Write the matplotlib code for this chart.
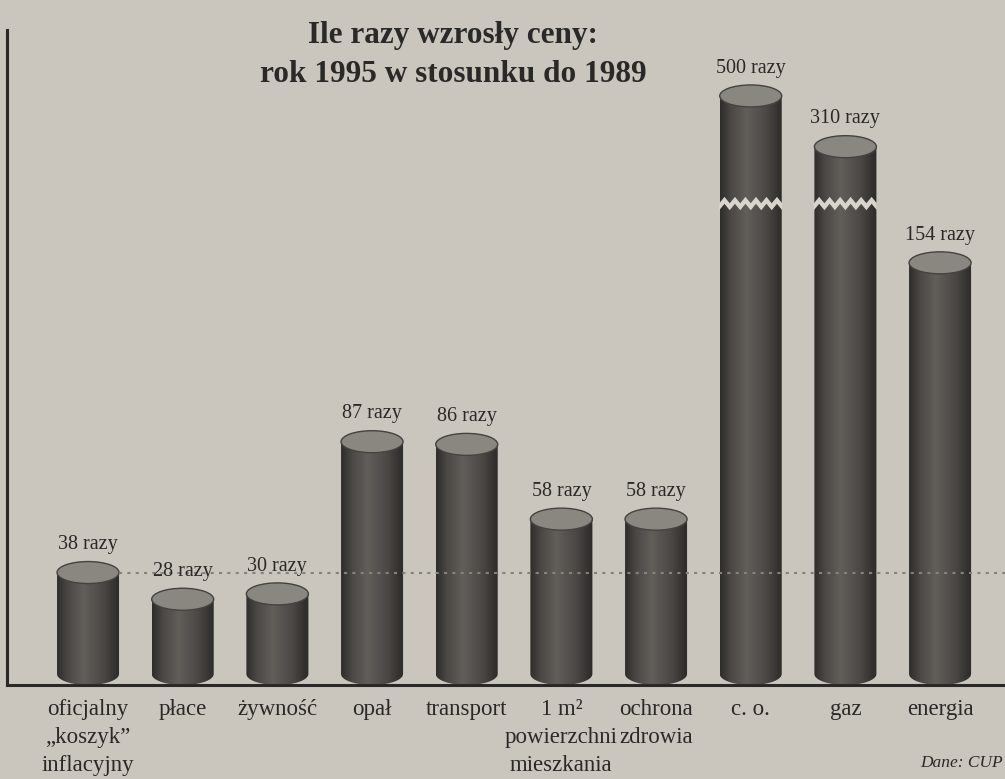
import numpy as np
import matplotlib
matplotlib.use("Agg")
import matplotlib.pyplot as plt
from matplotlib.patches import Ellipse, PathPatch, Polygon
from matplotlib.path import Path
from matplotlib.colors import LinearSegmentedColormap

# ---------------- data ----------------
categories = [
    "oficjalny\n„koszyk”\ninflacyjny",
    "płace",
    "żywność",
    "opał",
    "transport",
    "1 m²\npowierzchni\nmieszkania",
    "ochrona\nzdrowia",
    "c. o.",
    "gaz",
    "energia",
]
values = [38, 28, 30, 87, 86, 58, 58, 500, 310, 154]
value_labels = [f"{v} razy" for v in values]
reference_value = values[0]          # dotted line: official inflation basket
title = "Ile razy wzrosły ceny:\nrok 1995 w stosunku do 1989"
source = "Dane: CUP"

# broken-axis compression for very tall bars
BREAK_START = 185
BREAK_RATIO = 0.1
BREAK_MARK = 175


def drawn_height(v):
    if v <= BREAK_START:
        return v
    return BREAK_START + (v - BREAK_START) * BREAK_RATIO


# ---------------- style ----------------
BG = "#cbc6bd"
TXT = "#2b2927"
SERIF = "Liberation Serif"
cyl_cmap = LinearSegmentedColormap.from_list(
    "cyl", [(0.0, "#2f2d2b"), (0.18, "#4b4845"), (0.42, "#625e5a"),
            (0.72, "#4c4946"), (1.0, "#2c2a28")])

fig = plt.figure(figsize=(10.05, 7.79), dpi=100, facecolor=BG)
ax = fig.add_axes([7 / 1005, 94 / 779, 998 / 1005, 655 / 779])
ax.set_facecolor("none")

XLIM = (-0.856, 9.686)
YLIM = (-4.12, 241.2)
bar_w = 0.655
hw = bar_w / 2
ry = 4.12  # vertical semi-axis of the cylinder ellipses (data units)

x = np.arange(len(values))
grad = np.linspace(0, 1, 256).reshape(1, -1)

for xc, v, lab in zip(x, values, value_labels):
    top = drawn_height(v)
    t = np.linspace(np.pi, 2 * np.pi, 40)
    arc = np.column_stack([xc + hw * np.cos(t), ry * np.sin(t)])
    verts = np.vstack([[xc - hw, top], arc, [xc + hw, top], [xc - hw, top]])
    body = PathPatch(Path(verts, closed=True), facecolor="none",
                     edgecolor="none", transform=ax.transData)
    ax.add_patch(body)
    im = ax.imshow(grad, cmap=cyl_cmap, extent=[xc - hw, xc + hw, -ry, top],
                   aspect="auto", interpolation="bilinear", zorder=2)
    im.set_clip_path(body)

    if v > BREAK_START:
        n = 12
        xs = np.linspace(xc - hw - 0.005, xc + hw + 0.005, n + 1)
        z = np.array([(i % 2) for i in range(n + 1)]) * 2.4
        upper = np.column_stack([xs, BREAK_MARK + 1.3 + z])
        lower = np.column_stack([xs[::-1], (BREAK_MARK - 1.3 + z)[::-1]])
        ax.add_patch(Polygon(np.vstack([upper, lower]), closed=True,
                             facecolor="#d9d5cc", edgecolor="none", zorder=3))

    ax.add_patch(Ellipse((xc, top), bar_w, 2 * ry, facecolor="#8a8680",
                         edgecolor="#45423f", lw=1.0, zorder=4))
    ax.annotate(lab, (xc, top), xytext=(0, 20), textcoords="offset points",
                ha="center", va="center", fontsize=14.5, family=SERIF,
                color=TXT, zorder=7)

# reference dotted line at the basket level
ax.plot([x[0] + hw, XLIM[1]], [reference_value, reference_value],
        color="#868279", lw=1.5, ls=(0, (1.5, 2.5)), zorder=5)

ax.set_xlim(*XLIM)
ax.set_ylim(*YLIM)
ax.set_yticks([])
ax.set_xticks(x)
ax.set_xticklabels(categories, fontsize=16.5, family=SERIF, color=TXT)
for lbl in ax.get_xticklabels():
    lbl.set_linespacing(1.45)
ax.tick_params(axis="x", length=0, pad=10)
for s in ("top", "right"):
    ax.spines[s].set_visible(False)
for s in ("left", "bottom"):
    ax.spines[s].set_linewidth(2.2)
    ax.spines[s].set_color(TXT)

fig.text(0.451, 1 - 55 / 779, title, ha="center", va="center", fontsize=22.5,
         fontweight="bold", family=SERIF, color=TXT, linespacing=1.45)
fig.text(1003 / 1005, 1 - 763 / 779, source, ha="right", va="center",
         fontsize=12.5, style="italic", family=SERIF, color=TXT)

fig.savefig("out.png", dpi=100, facecolor=BG)
